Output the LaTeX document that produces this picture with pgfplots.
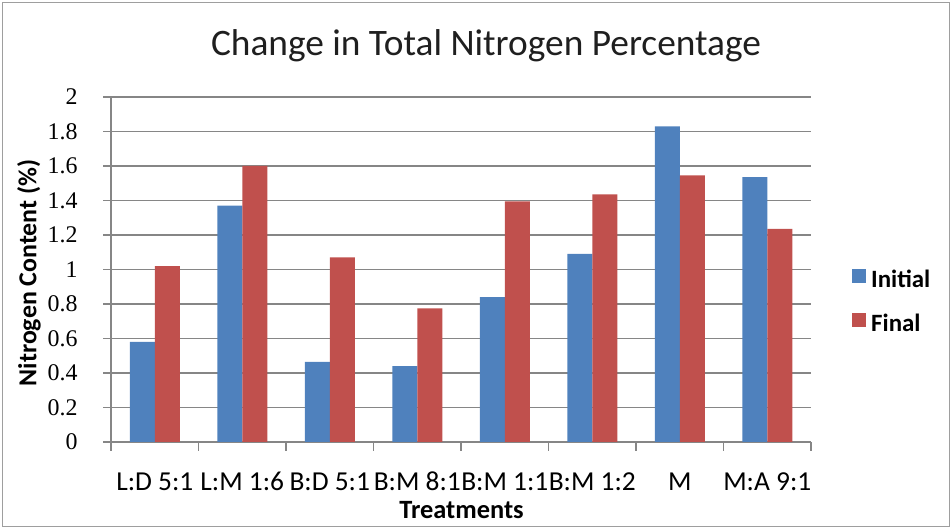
\documentclass[border=0pt]{standalone}
\usepackage{pgfplots}
\pgfplotsset{compat=1.18}
\usepackage{fontspec}
\setmainfont{Carlito}
\newfontfamily\serifnum{Liberation Serif}
\definecolor{cblue}{HTML}{4F81BD}
\definecolor{cred}{HTML}{C0504D}
\definecolor{cgrid}{HTML}{868686}
\begin{document}
\begin{tikzpicture}[x=1bp,y=1bp]
\useasboundingbox (0,0) rectangle (952,529);
\draw[cgrid!80,line width=1.2bp] (2.5,2.5) rectangle (949.5,526.5);
\begin{axis}[
  at={(111bp,87bp)}, anchor=south west,
  scale only axis, width=700bp, height=345bp,
  ybar=0pt, bar width=25bp,
  xmin=-0.5, xmax=7.5, ymin=0, ymax=2,
  ytick={0,0.2,...,2.01},
  /pgf/number format/assume math mode=true,
  yticklabel style={/pgf/number format/fixed,/pgf/number format/precision=1,
    font=\serifnum\fontsize{24}{27}\selectfont, xshift=-22bp},
  xtick={0,...,7},
  xticklabels={L:D 5:1,L:M 1:6,B:D 5:1,B:M 8:1,B:M 1:1,B:M 1:2,M,M:A 9:1},
  xticklabel style={font=\fontsize{27.5}{30}\selectfont, anchor=north, inner sep=0pt,
    text height=18bp, text depth=0bp, yshift=-22bp},
  minor xtick={-0.5,0.5,...,7.5},
  major x tick style={draw=none},
  tick align=outside, major tick length=8bp, minor tick length=9bp,
  xtick pos=bottom, ytick pos=left,
  axis lines*=left,
  axis line style={cgrid,line width=1.2bp},
  tick style={cgrid,line width=1.2bp},
  ymajorgrids, grid style={cgrid,line width=1.2bp},
  ylabel={\bfseries Nitrogen Content (\%)},
  ylabel style={font=\fontsize{26}{28}\selectfont, at={(-82bp,169bp)}, anchor=center},
  xlabel={\bfseries Treatments},
  xlabel style={font=\fontsize{26.5}{28}\selectfont, at={(350.5bp,-77bp)}, anchor=base},
  title={Change in Total Nitrogen Percentage},
  title style={font=\fontsize{37.5}{40}\selectfont, at={(375bp,381bp)}, anchor=base, color=black!88},
  legend style={at={(1,0.40)}, anchor=west, xshift=41bp, draw=none, fill=none,
    inner sep=0pt, font=\bfseries\fontsize{25}{28}\selectfont, row sep=18bp,
    nodes={inner ysep=2bp, inner xsep=5bp, text height=17bp, text depth=5bp}},
  legend cell align=left,
  legend image code/.code={\fill[#1] (0bp,-1bp) rectangle (14bp,13bp);},
  clip=false,
]
\addplot[fill=cblue, draw=none] coordinates {(0,0.58) (1,1.37) (2,0.465) (3,0.44) (4,0.84) (5,1.09) (6,1.83) (7,1.535)};
\addplot[fill=cred, draw=none] coordinates {(0,1.02) (1,1.60) (2,1.07) (3,0.775) (4,1.395) (5,1.435) (6,1.545) (7,1.235)};
\legend{Initial,Final}
\end{axis}
\end{tikzpicture}
\end{document}
